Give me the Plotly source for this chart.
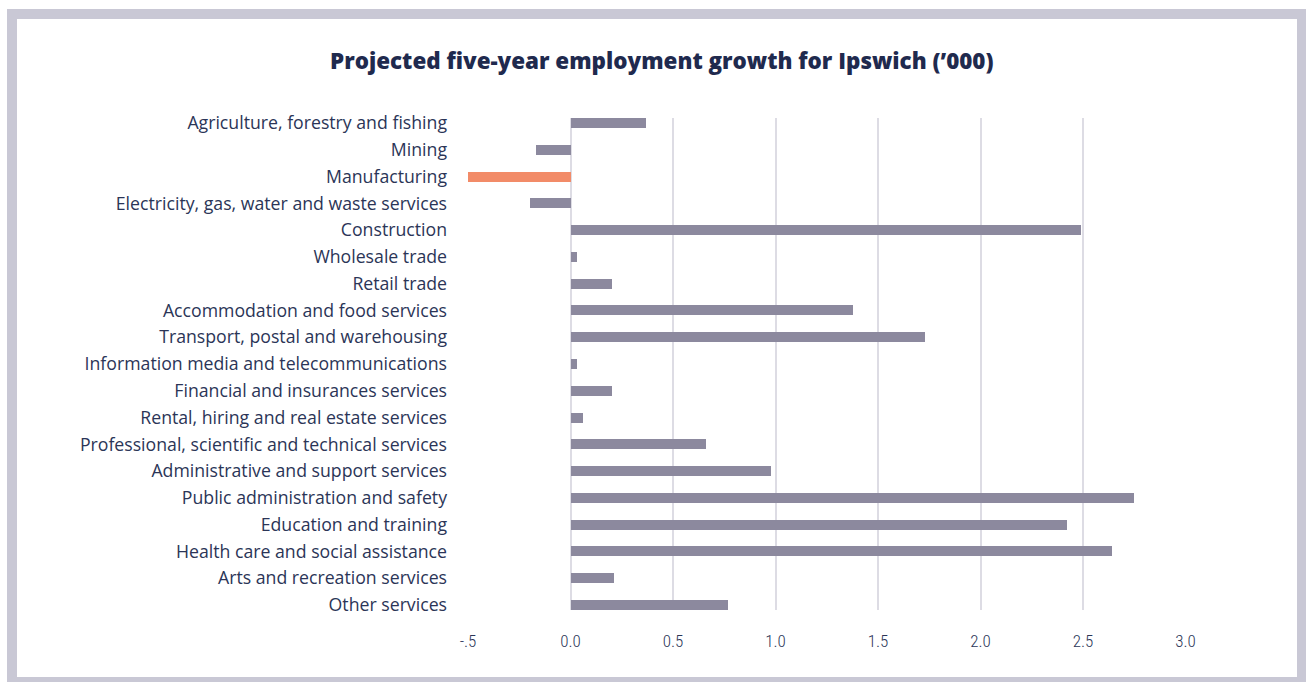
import plotly.graph_objects as go

W, H = 1306, 682

industries = [
    "Agriculture, forestry and fishing",
    "Mining",
    "Manufacturing",
    "Electricity, gas, water and waste services",
    "Construction",
    "Wholesale trade",
    "Retail trade",
    "Accommodation and food services",
    "Transport, postal and warehousing",
    "Information media and telecommunications",
    "Financial and insurances services",
    "Rental, hiring and real estate services",
    "Professional, scientific and technical services",
    "Administrative and support services",
    "Public administration and safety",
    "Education and training",
    "Health care and social assistance",
    "Arts and recreation services",
    "Other services",
]
growth = [0.37, -0.17, -0.50, -0.20, 2.49, 0.03, 0.20, 1.38, 1.73, 0.03,
          0.20, 0.06, 0.66, 0.98, 2.75, 2.42, 2.64, 0.21, 0.77]

x_tick_vals = [-0.5, 0.0, 0.5, 1.0, 1.5, 2.0, 2.5, 3.0]
x_tick_text = ["-.5", "0.0", "0.5", "1.0", "1.5", "2.0", "2.5", "3.0"]

BAR = "#8c899e"
HIGHLIGHT = "#f28b68"
NAVY = "#2b3557"
TITLE = "#1f2a4e"
GRID = "#dddce4"
FRAME = "#c9c8d5"

colors = [HIGHLIGHT if v <= -0.45 else BAR for v in growth]

fig = go.Figure(
    go.Bar(
        x=growth,
        y=industries,
        orientation="h",
        width=0.373,
        marker=dict(color=colors, line=dict(width=0)),
        hoverinfo="x+y",
    )
)

def px_x(p):
    return p / W

def px_y(p):
    return 1 - p / H

n = len(industries)
half = 0.373 / 2

LABEL_FONT = "'Open Sans', 'Noto Sans', sans-serif"

fig.update_layout(
    width=W,
    height=H,
    margin=dict(l=0, r=0, t=0, b=0),
    paper_bgcolor="white",
    plot_bgcolor="rgba(0,0,0,0)",
    showlegend=False,
    bargap=0,
    font=dict(family=LABEL_FONT, color=NAVY, size=16),
    xaxis=dict(
        domain=[px_x(468), px_x(1185.5)],
        range=[-0.5, 3.0],
        tickvals=x_tick_vals,
        ticktext=x_tick_text,
        showgrid=True,
        gridcolor=GRID,
        gridwidth=1.5,
        zeroline=False,
        showline=False,
        ticks="",
        ticklabelstandoff=19,
        tickfont=dict(family="'Liberation Sans Narrow', 'Roboto Condensed', 'Liberation Sans', sans-serif",
                      size=17, color=NAVY, weight=300),
        automargin=False,
        fixedrange=True,
    ),
    yaxis=dict(
        domain=[px_y(610), px_y(118)],
        categoryorder="array",
        categoryarray=industries,
        range=[n - 1 + half, -half],
        showgrid=False,
        zeroline=False,
        showline=False,
        ticks="",
        ticklabelstandoff=20,
        tickfont=dict(family=LABEL_FONT, size=17.7, color=NAVY, weight=400),
        automargin=False,
        fixedrange=True,
    ),
    shapes=[
        dict(type="rect", xref="paper", yref="paper", layer="below",
             x0=px_x(7), x1=1, y0=0, y1=px_y(9),
             fillcolor=FRAME, line=dict(width=0)),
        dict(type="rect", xref="paper", yref="paper", layer="below",
             x0=px_x(17), x1=px_x(1297), y0=px_y(677), y1=px_y(19),
             fillcolor="white", line=dict(width=0)),
    ],
    annotations=[
        dict(
            text="Projected five-year employment growth for Ipswich (\u2019000)",
            xref="paper", yref="paper",
            x=px_x(662), y=px_y(60),
            xanchor="center", yanchor="middle",
            showarrow=False,
            font=dict(family=LABEL_FONT, size=22.4, color=TITLE, weight=800),
        )
    ],
)

fig.write_html("out.html")
